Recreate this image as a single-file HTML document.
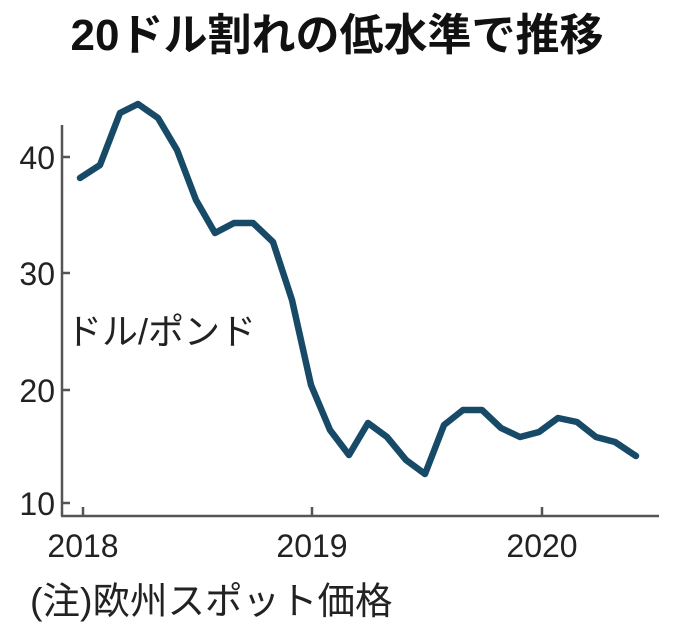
<!DOCTYPE html>
<html><head><meta charset="utf-8"><style>
html,body{margin:0;padding:0;background:#fff;}
svg{display:block;}
text{font-family:"Liberation Sans","Noto Sans CJK JP",sans-serif;fill:#222;}
</style></head><body>
<svg width="680" height="633" viewBox="0 0 680 633" xmlns="http://www.w3.org/2000/svg">
<text x="337" y="50" text-anchor="middle" font-size="44" font-weight="bold" style="fill:#111">20ドル割れの低水準で推移</text>
<g stroke="#555" stroke-width="2.5" fill="none">
<line x1="62" y1="125" x2="62" y2="516"/>
<line x1="61" y1="516" x2="659" y2="516"/>
<line x1="62" y1="157" x2="70" y2="157"/>
<line x1="62" y1="273" x2="70" y2="273"/>
<line x1="62" y1="390" x2="70" y2="390"/>
<line x1="62" y1="503" x2="70" y2="503"/>
<line x1="83" y1="516" x2="83" y2="507"/>
<line x1="312" y1="516" x2="312" y2="507"/>
<line x1="542" y1="516" x2="542" y2="507"/>
</g>
<g font-size="32" text-anchor="end">
<text x="55" y="169">40</text>
<text x="55" y="285">30</text>
<text x="55" y="402">20</text>
<text x="55" y="515">10</text>
</g>
<g font-size="32" text-anchor="middle">
<text x="83" y="557">2018</text>
<text x="312" y="557">2019</text>
<text x="542" y="557">2020</text>
</g>
<text x="66" y="344" font-size="36">ドル/ポンド</text>
<text x="30" y="614" font-size="37.5">(注)欧州スポット価格</text>
<polyline fill="none" stroke="#174a66" stroke-width="6.5" stroke-linejoin="round" stroke-linecap="round"
points="80,178 100,165 120,113 138,104 158,118 177,150 196,200 215,233 234,223 253,223 273,242 292,300 311,385 330,430 349,455 368,423 387,437 406,460 425,474 444,425 463,410 482,410 501,428 520,437 539,432 558,418 577,422 596,437 615,442 636,456"/>
</svg>
</body></html>
